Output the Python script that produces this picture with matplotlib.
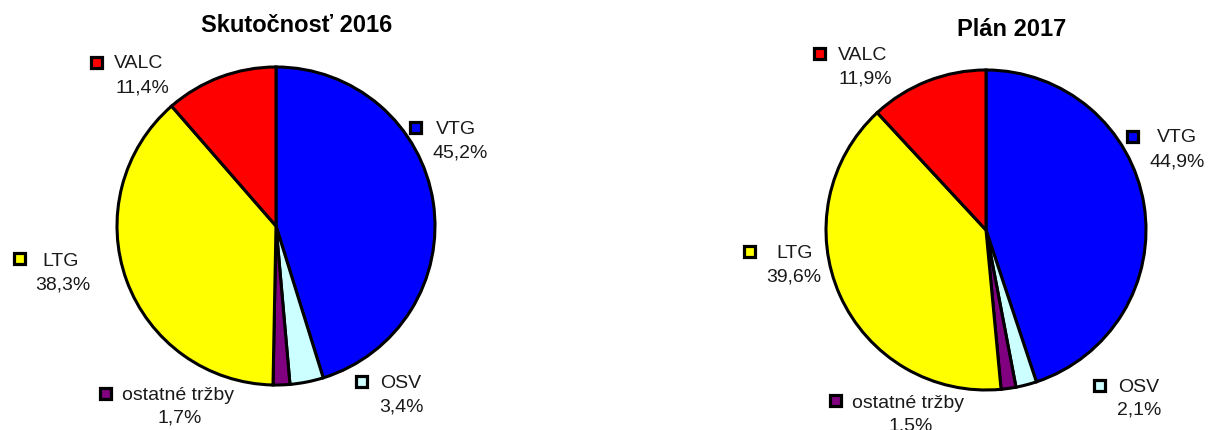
import matplotlib
matplotlib.use("Agg")
import matplotlib.pyplot as plt
from matplotlib.patches import Rectangle

plt.rcParams['font.family'] = ['Liberation Sans', 'DejaVu Sans']

# ---- data ----
categories = ["VTG", "OSV", "ostatné tržby", "LTG", "VALC"]
values_2016 = [45.2, 3.4, 1.7, 38.3, 11.4]
values_2017 = [44.9, 2.1, 1.5, 39.6, 11.9]
titles = ["Skutočnosť 2016", "Plán 2017"]
pct_labels_2016 = ["45,2%", "3,4%", "1,7%", "38,3%", "11,4%"]
pct_labels_2017 = ["44,9%", "2,1%", "1,5%", "39,6%", "11,9%"]

# ---- styling / layout ----
colors = ["#0000FF", "#CCFFFF", "#800080", "#FFFF00", "#FF0000"]
W, H = 1208, 430

pie_centers = [(276, 226), (986, 230)]
pie_radii = [159, 160]
title_pos = [(297, 26), (1012, 30)]

# per chart: (square center x, y), (name left x, y), (pct center x, y)
label_layout = [
    [((415, 127), (436, 129), (460, 153)),
     ((361, 381), (380, 384), (401, 407)),
     ((105, 393), (122, 396), (180, 418)),
     ((19, 258), (42, 261), (63, 285)),
     ((96, 62), (114, 64), (142, 88))],
    [((1132, 136), (1157, 138), (1177, 162)),
     ((1099, 385), (1118, 388), (1139, 410)),
     ((835, 400), (852, 403), (911, 426)),
     ((749, 251), (776, 253), (794, 277)),
     ((819, 53), (838, 55), (865, 79))],
]

fig = plt.figure(figsize=(W / 100, H / 100), dpi=100)
ax = fig.add_axes([0, 0, 1, 1])

def Y(y):
    return H - y

for ci, (vals, pcts) in enumerate([(values_2016, pct_labels_2016),
                                    (values_2017, pct_labels_2017)]):
    cx, cy = pie_centers[ci]
    ax.pie(vals, colors=colors, startangle=90, counterclock=False,
           center=(cx, Y(cy)), radius=pie_radii[ci],
           wedgeprops=dict(edgecolor="black", linewidth=2.2),
           frame=True)
    tx, ty = title_pos[ci]
    ax.text(tx, Y(ty), titles[ci], ha="center", va="center",
            fontsize=17, fontweight="bold", color="black")
    for k, name in enumerate(categories):
        (sx, sy), (nx, ny), (px, py) = label_layout[ci][k]
        s = 11
        ax.add_patch(Rectangle((sx - s / 2, Y(sy) - s / 2), s, s,
                               facecolor=colors[k], edgecolor="black",
                               linewidth=2.3, zorder=5))
        ax.text(nx, Y(ny), name, ha="left", va="center", fontsize=14,
                color="#1a1a1a")
        ax.text(px, Y(py), pcts[k], ha="center", va="center", fontsize=14,
                color="#1a1a1a")

ax.set_xlim(0, W)
ax.set_ylim(0, H)
ax.set_aspect("auto")
ax.axis("off")

fig.savefig("out.png", dpi=100, facecolor="white")
